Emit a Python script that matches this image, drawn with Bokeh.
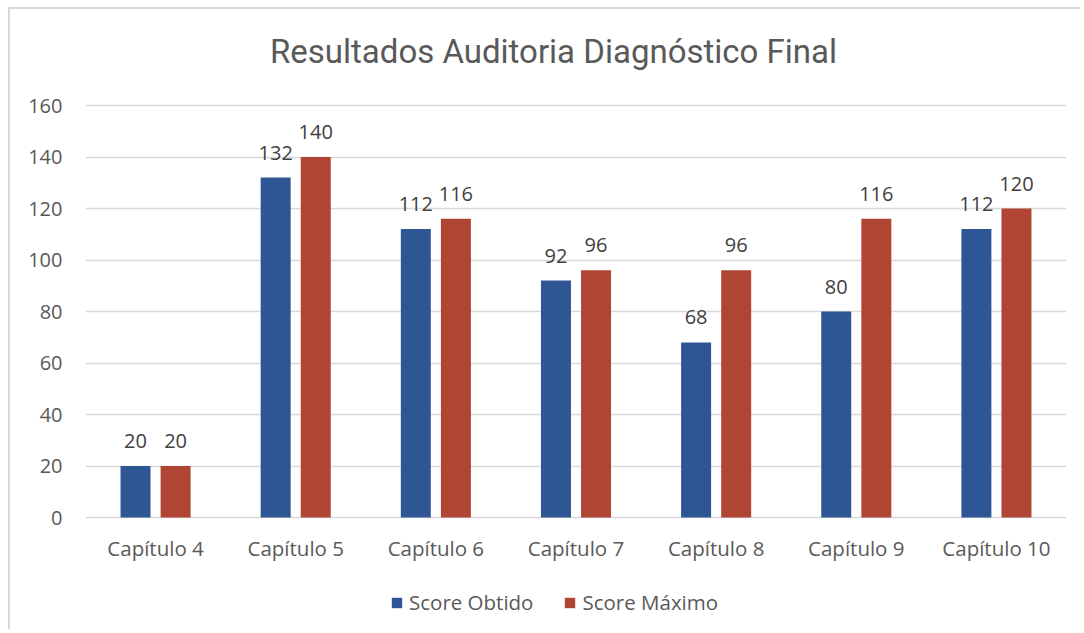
from bokeh.plotting import figure
from bokeh.models import ColumnDataSource, FactorRange, Range1d, Legend, LegendItem, FixedTicker, Label
from bokeh.transform import dodge
from bokeh.core.properties import value
from bokeh.embed import file_html
from bokeh.resources import INLINE

categories = ["Capítulo 4", "Capítulo 5", "Capítulo 6", "Capítulo 7", "Capítulo 8", "Capítulo 9", "Capítulo 10"]
score_obtido = [20, 132, 112, 92, 68, 80, 112]
score_maximo = [20, 140, 116, 96, 96, 116, 120]
series_names = ["Score Obtido", "Score Máximo"]
y_ticks = [0, 20, 40, 60, 80, 100, 120, 140, 160]
title_text = "Resultados Auditoria Diagnóstico Final"

BLUE = "#2E5594"
RED = "#AF4532"
TXT = "#595959"
LBL = "#404040"
FONT = "Open Sans"

# layout geometry (pixels)
W, H = 1072, 622
PLOT_TOP, PLOT_BOTTOM = 96, 508          # pixel rows of 160 and 0 inside the canvas
px_per_unit = (PLOT_BOTTOM - PLOT_TOP) / (y_ticks[-1] - y_ticks[0])
y_lo = y_ticks[0] - (H - PLOT_BOTTOM) / px_per_unit
y_hi = y_ticks[-1] + PLOT_TOP / px_per_unit

src = ColumnDataSource(dict(
    cat=categories,
    obtido=score_obtido,
    maximo=score_maximo,
    obtido_lbl=[str(v) for v in score_obtido],
    maximo_lbl=[str(v) for v in score_maximo],
))

p = figure(width=W, height=H,
           x_range=FactorRange(*categories),
           y_range=Range1d(y_lo, y_hi),
           output_backend="svg", toolbar_location=None,
           min_border_left=75, min_border_right=16,
           min_border_top=0, min_border_bottom=0)
p.margin = (7, 0, 0, 8)
p.styles = {"border-left": "2px solid #D9D9D9", "border-top": "2px solid #D9D9D9"}

off = 0.143
bw = 0.214
r1 = p.vbar(x=dodge("cat", -off, range=p.x_range), top="obtido", width=bw,
            source=src, fill_color=BLUE, line_color=None)
r2 = p.vbar(x=dodge("cat", off, range=p.x_range), top="maximo", width=bw,
            source=src, fill_color=RED, line_color=None)

for xoff, col in ((-off, "obtido"), (off, "maximo")):
    p.text(x=dodge("cat", xoff, range=p.x_range), y=col, text=col + "_lbl",
           source=src, text_align="center", text_baseline="alphabetic",
           y_offset=-25, text_font=value(FONT), text_font_size="20px",
           text_color=LBL)

p.outline_line_color = None
p.xgrid.grid_line_color = None
p.ygrid.grid_line_color = "#D9D9D9"
p.ygrid.grid_line_width = 1.5
p.yaxis.ticker = FixedTicker(ticks=y_ticks)
p.ygrid.ticker = FixedTicker(ticks=y_ticks)

for ax in (p.xaxis[0], p.yaxis[0]):
    ax.axis_line_color = None
    ax.major_tick_line_color = None
    ax.minor_tick_line_color = None
    ax.major_tick_out = 0
    ax.major_tick_in = 0
    ax.major_label_text_font = FONT
    ax.major_label_text_color = TXT
p.xaxis.fixed_location = y_ticks[0]
p.yaxis.major_label_text_font_size = "20px"
p.yaxis.major_label_standoff = 23
p.xaxis.major_label_text_font_size = "20.5px"
p.xaxis.major_label_standoff = 16

legend = Legend(items=[LegendItem(label=series_names[0], renderers=[r1]),
                       LegendItem(label=series_names[1], renderers=[r2])],
                orientation="horizontal", location=(305, 15),
                padding=0, margin=0, spacing=30, label_standoff=6,
                glyph_width=13, glyph_height=13,
                label_text_font=FONT, label_text_font_size="20.5px",
                label_text_color=TXT, border_line_color=None,
                background_fill_alpha=0)
p.add_layout(legend)

title = Label(x=468, y=H - 42, x_units="screen", y_units="screen", text=title_text,
              text_align="center", text_baseline="alphabetic",
              text_font="Roboto", text_font_size="33px", text_color=TXT)
p.add_layout(title)

open("out.html", "w").write(file_html(p, INLINE))
